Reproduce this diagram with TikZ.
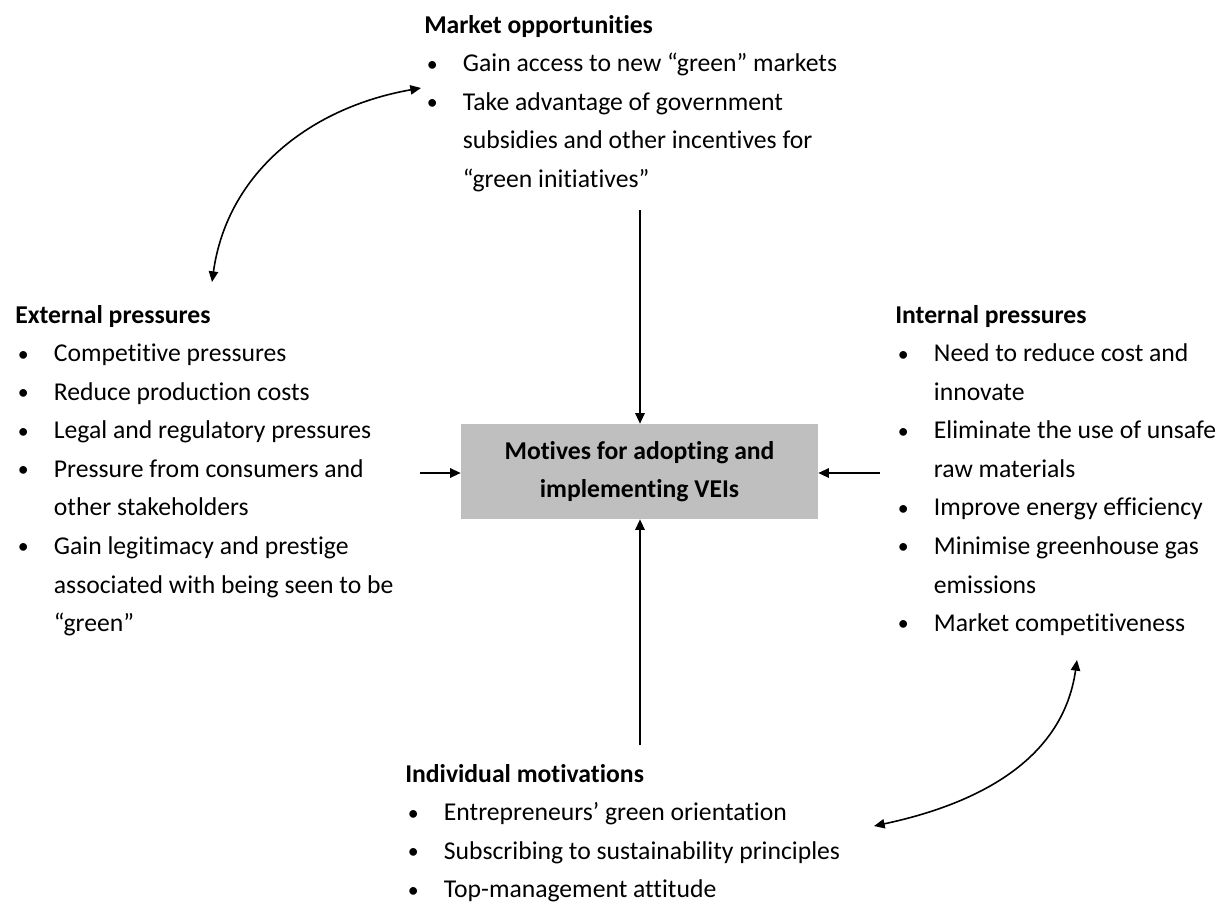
\documentclass[tikz,border=0pt]{standalone}
\usepackage{fontspec}
\setmainfont{Carlito}[Ligatures=NoCommon]
\usepackage{tikz}
\usetikzlibrary{arrows.meta, positioning}
% bullet line and continuation line of a list
\newcommand{\Bul}[1]{\makebox[29pt][l]{\hspace{2pt}\raisebox{0.6pt}{\scalebox{0.85}{\textbullet}}}#1}
\newcommand{\Cont}[1]{\hspace*{29pt}#1}
\newcommand{\Head}[1]{\rule{0pt}{15pt}\textbf{#1}}

\begin{document}
\begin{tikzpicture}[x=0.75pt, y=-0.75pt,
  list/.style={anchor=north west, inner sep=0pt, align=left,
    font=\fontsize{19.25}{28.9}\selectfont},
  motive/.style={fill=black!25, inner sep=0pt, align=center,
    minimum width=267.75pt, minimum height=71.25pt,
    font=\fontsize{19.25}{28.5}\selectfont\bfseries},
  link/.style={line width=1.5pt, -{Triangle[length=8pt,width=7pt]}},
  twoway/.style={line width=1.2pt, {Triangle[length=8pt,width=7pt]}-{Triangle[length=8pt,width=7pt]}}]
\useasboundingbox (0,0) rectangle (1222,907);

% central box
\node[motive] (vei) at (639.5,471.5) {Motives for adopting and\\implementing VEIs};

% the four groups of motives
\node[list] (market) at (424,13) {\Head{Market opportunities}\\
  \Bul{Gain access to new “green” markets}\\
  \Bul{Take advantage of government}\\
  \Cont{subsidies and other incentives for}\\
  \Cont{“green initiatives”}};
\node[list] (external) at (15,303) {\Head{External pressures}\\
  \Bul{Competitive pressures}\\
  \Bul{Reduce production costs}\\
  \Bul{Legal and regulatory pressures}\\
  \Bul{Pressure from consumers and}\\
  \Cont{other stakeholders}\\
  \Bul{Gain legitimacy and prestige}\\
  \Cont{associated with being seen to be}\\
  \Cont{“green”}};
\node[list] (internal) at (895,303) {\Head{Internal pressures}\\
  \Bul{Need to reduce cost and}\\
  \Cont{innovate}\\
  \Bul{Eliminate the use of unsafe}\\
  \Cont{raw materials}\\
  \Bul{Improve energy efficiency}\\
  \Bul{Minimise greenhouse gas}\\
  \Cont{emissions}\\
  \Bul{Market competitiveness}};
\node[list] (individual) at (405,762) {\Head{Individual motivations}\\
  \Bul{Entrepreneurs’ green orientation}\\
  \Bul{Subscribing to sustainability principles}\\
  \Bul{Top-management attitude}};

% straight arrows into the box
\coordinate (fromtop) at (640,210);
\coordinate (fromleft) at (420,473);
\coordinate (fromright) at (880,473);
\coordinate (frombottom) at (640,745);
\draw[link] (fromtop) -- (vei.north -| fromtop);
\draw[link] (fromleft) -- (vei.west |- fromleft);
\draw[link] (fromright) -- (vei.east |- fromright);
\draw[link] (frombottom) -- (vei.south -| frombottom);

% curved two-way arrows
\coordinate (mkt) at (421,88);
\coordinate (ext) at (212,282);
\coordinate (intl) at (1077,660);
\coordinate (ind) at (874,826);
\draw[twoway] (ext) to[out=82, in=190] (mkt);
\draw[twoway] (ind) to[out=12, in=262] (intl);
\end{tikzpicture}
\end{document}
